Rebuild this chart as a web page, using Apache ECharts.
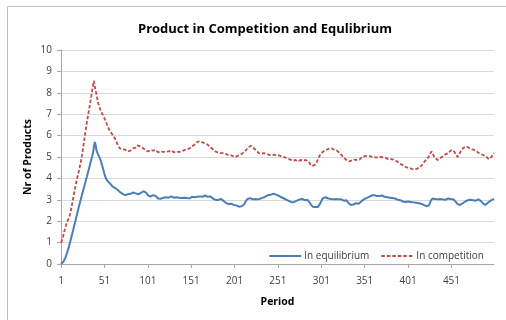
<!DOCTYPE html>
<html>
<head>
<meta charset="utf-8">
<script src="https://cdn.jsdelivr.net/npm/echarts@6/dist/echarts.min.js"></script>
<style>
  html, body { margin: 0; padding: 0; background: #ffffff; }
  #chart { width: 506px; height: 320px; }
</style>
</head>
<body>
<div id="chart"></div>
<script>
// Average number of products per period, 500 simulated periods
const periodCount = 500;
const periods = Array.from({ length: periodCount }, (_, i) => String(i + 1));

const yTicks = [0, 1, 2, 3, 4, 5, 6, 7, 8, 9, 10];

const equilibrium = [
  0.00, 0.02, 0.06, 0.12, 0.20, 0.29, 0.40, 0.52, 0.66, 0.80,
  0.95, 1.10, 1.26, 1.42, 1.58, 1.75, 1.92, 2.08, 2.25, 2.42,
  2.58, 2.74, 2.90, 3.05, 3.20, 3.36, 3.50, 3.66, 3.80, 3.96,
  4.10, 4.26, 4.42, 4.58, 4.74, 4.90, 5.05, 5.22, 5.48, 5.70,
  5.55, 5.30, 5.24, 5.10, 5.02, 4.92, 4.80, 4.66, 4.52, 4.38,
  4.22, 4.08, 3.98, 3.92, 3.86, 3.82, 3.78, 3.74, 3.70, 3.64,
  3.62, 3.60, 3.56, 3.52, 3.50, 3.48, 3.46, 3.40, 3.36, 3.32,
  3.30, 3.28, 3.26, 3.24, 3.22, 3.24, 3.22, 3.26, 3.28, 3.30,
  3.28, 3.30, 3.32, 3.34, 3.35, 3.32, 3.30, 3.28, 3.26, 3.26,
  3.28, 3.30, 3.32, 3.34, 3.38, 3.40, 3.42, 3.40, 3.34, 3.28,
  3.22, 3.18, 3.16, 3.15, 3.18, 3.20, 3.22, 3.22, 3.20, 3.18,
  3.14, 3.10, 3.06, 3.04, 3.03, 3.05, 3.03, 3.06, 3.10, 3.12,
  3.10, 3.12, 3.14, 3.12, 3.10, 3.12, 3.14, 3.16, 3.14, 3.12,
  3.10, 3.12, 3.14, 3.12, 3.10, 3.08, 3.10, 3.12, 3.10, 3.08,
  3.06, 3.08, 3.10, 3.08, 3.06, 3.08, 3.06, 3.05, 3.07, 3.10,
  3.12, 3.14, 3.12, 3.10, 3.12, 3.14, 3.16, 3.14, 3.12, 3.14,
  3.16, 3.18, 3.16, 3.14, 3.16, 3.18, 3.20, 3.18, 3.16, 3.14,
  3.16, 3.18, 3.16, 3.12, 3.08, 3.06, 3.04, 3.02, 3.00, 2.98,
  2.96, 2.98, 3.00, 3.02, 3.04, 3.02, 3.00, 2.96, 2.92, 2.88,
  2.86, 2.84, 2.82, 2.80, 2.78, 2.80, 2.82, 2.80, 2.78, 2.76,
  2.74, 2.76, 2.74, 2.72, 2.70, 2.68, 2.66, 2.68, 2.70, 2.68,
  2.72, 2.78, 2.86, 2.94, 3.00, 3.04, 3.08, 3.10, 3.08, 3.06,
  3.04, 3.02, 3.00, 3.02, 3.04, 3.06, 3.04, 3.02, 3.00, 3.02,
  3.06, 3.10, 3.12, 3.10, 3.12, 3.14, 3.16, 3.18, 3.20, 3.22,
  3.24, 3.26, 3.24, 3.22, 3.26, 3.28, 3.30, 3.28, 3.24, 3.22,
  3.20, 3.18, 3.16, 3.14, 3.12, 3.10, 3.08, 3.06, 3.04, 3.02,
  3.00, 2.98, 2.96, 2.94, 2.92, 2.90, 2.88, 2.86, 2.88, 2.90,
  2.92, 2.94, 2.96, 2.98, 3.00, 3.02, 3.00, 3.02, 3.04, 3.02,
  3.00, 2.98, 3.00, 3.02, 3.00, 2.96, 2.90, 2.84, 2.78, 2.72,
  2.68, 2.66, 2.64, 2.66, 2.68, 2.64, 2.66, 2.70, 2.78, 2.86,
  2.94, 3.02, 3.08, 3.12, 3.15, 3.12, 3.10, 3.08, 3.06, 3.04,
  3.02, 3.04, 3.06, 3.04, 3.02, 3.00, 3.02, 3.04, 3.06, 3.04,
  3.02, 3.03, 3.04, 3.02, 3.00, 2.98, 2.96, 2.94, 2.96, 2.98,
  2.92, 2.86, 2.80, 2.78, 2.76, 2.78, 2.76, 2.78, 2.80, 2.82,
  2.84, 2.86, 2.84, 2.82, 2.84, 2.88, 2.92, 2.96, 3.00, 3.02,
  3.04, 3.06, 3.08, 3.10, 3.12, 3.14, 3.16, 3.18, 3.20, 3.22,
  3.20, 3.22, 3.18, 3.16, 3.18, 3.20, 3.22, 3.18, 3.16, 3.18,
  3.20, 3.18, 3.16, 3.14, 3.12, 3.10, 3.12, 3.14, 3.12, 3.10,
  3.08, 3.06, 3.08, 3.10, 3.08, 3.06, 3.04, 3.02, 3.00, 2.98,
  2.96, 2.98, 2.96, 2.94, 2.92, 2.94, 2.92, 2.90, 2.92, 2.94,
  2.92, 2.90, 2.92, 2.90, 2.88, 2.86, 2.88, 2.86, 2.84, 2.86,
  2.84, 2.86, 2.84, 2.82, 2.84, 2.82, 2.80, 2.78, 2.76, 2.74,
  2.72, 2.70, 2.72, 2.70, 2.74, 2.84, 2.94, 3.02, 3.06, 3.08,
  3.06, 3.04, 3.06, 3.04, 3.02, 3.04, 3.06, 3.04, 3.02, 3.00,
  3.02, 3.04, 3.02, 3.00, 3.02, 3.04, 3.06, 3.04, 3.02, 3.04,
  3.02, 3.04, 3.03, 3.00, 2.96, 2.90, 2.84, 2.80, 2.78, 2.76,
  2.76, 2.78, 2.80, 2.84, 2.88, 2.90, 2.92, 2.94, 2.96, 2.98,
  2.96, 2.98, 3.00, 2.98, 2.96, 2.98, 3.00, 2.98, 2.96, 2.98,
  3.00, 3.02, 3.00, 2.98, 2.94, 2.88, 2.84, 2.80, 2.78, 2.76,
  2.78, 2.82, 2.86, 2.90, 2.94, 2.96, 2.98, 3.00, 3.02, 3.04
];

const competition = [
  1.00, 1.08, 1.20, 1.38, 1.55, 1.70, 1.86, 1.98, 2.06, 2.14,
  2.22, 2.40, 2.62, 2.84, 3.06, 3.28, 3.50, 3.70, 3.90, 4.08,
  4.24, 4.42, 4.60, 4.80, 5.04, 5.30, 5.58, 5.86, 6.14, 6.40,
  6.66, 6.90, 7.14, 7.38, 7.60, 7.86, 8.12, 8.38, 8.56, 8.30,
  8.10, 7.90, 7.70, 7.50, 7.38, 7.26, 7.14, 7.05, 6.98, 6.90,
  6.80, 6.74, 6.64, 6.52, 6.42, 6.32, 6.24, 6.18, 6.12, 6.06,
  6.00, 5.94, 5.88, 5.80, 5.70, 5.60, 5.50, 5.44, 5.40, 5.36,
  5.34, 5.36, 5.32, 5.30, 5.34, 5.28, 5.30, 5.26, 5.28, 5.32,
  5.30, 5.36, 5.34, 5.40, 5.42, 5.38, 5.44, 5.50, 5.54, 5.58,
  5.54, 5.50, 5.52, 5.46, 5.42, 5.44, 5.38, 5.34, 5.30, 5.28,
  5.26, 5.30, 5.28, 5.32, 5.30, 5.34, 5.30, 5.32, 5.36, 5.33,
  5.30, 5.26, 5.22, 5.24, 5.28, 5.26, 5.22, 5.20, 5.24, 5.26,
  5.28, 5.24, 5.26, 5.30, 5.26, 5.24, 5.28, 5.30, 5.26, 5.24,
  5.22, 5.26, 5.28, 5.24, 5.22, 5.20, 5.24, 5.26, 5.22, 5.26,
  5.28, 5.30, 5.32, 5.30, 5.34, 5.36, 5.34, 5.38, 5.40, 5.42,
  5.46, 5.50, 5.48, 5.54, 5.58, 5.62, 5.66, 5.70, 5.74, 5.77,
  5.74, 5.70, 5.72, 5.68, 5.70, 5.66, 5.64, 5.66, 5.60, 5.58,
  5.54, 5.50, 5.46, 5.42, 5.40, 5.36, 5.32, 5.30, 5.26, 5.24,
  5.22, 5.20, 5.18, 5.16, 5.18, 5.14, 5.16, 5.18, 5.14, 5.12,
  5.14, 5.10, 5.12, 5.08, 5.10, 5.06, 5.08, 5.04, 5.06, 5.02,
  5.04, 5.00, 5.02, 5.00, 5.04, 5.08, 5.06, 5.10, 5.14, 5.12,
  5.18, 5.22, 5.26, 5.30, 5.36, 5.40, 5.46, 5.50, 5.54, 5.52,
  5.50, 5.46, 5.42, 5.38, 5.35, 5.30, 5.26, 5.22, 5.18, 5.16,
  5.14, 5.16, 5.12, 5.14, 5.18, 5.16, 5.18, 5.14, 5.12, 5.14,
  5.10, 5.12, 5.14, 5.10, 5.12, 5.08, 5.10, 5.14, 5.12, 5.10,
  5.08, 5.10, 5.06, 5.08, 5.04, 5.02, 5.04, 5.00, 4.98, 4.96,
  4.98, 4.94, 4.96, 4.92, 4.88, 4.84, 4.82, 4.84, 4.86, 4.84,
  4.86, 4.82, 4.84, 4.80, 4.84, 4.82, 4.86, 4.88, 4.86, 4.84,
  4.88, 4.90, 4.86, 4.84, 4.86, 4.80, 4.74, 4.68, 4.62, 4.58,
  4.55, 4.58, 4.62, 4.68, 4.72, 4.80, 4.88, 4.96, 5.06, 5.14,
  5.18, 5.22, 5.26, 5.28, 5.30, 5.32, 5.34, 5.36, 5.38, 5.40,
  5.41, 5.38, 5.40, 5.36, 5.38, 5.34, 5.36, 5.32, 5.30, 5.28,
  5.22, 5.18, 5.14, 5.10, 5.06, 5.00, 4.96, 4.92, 4.88, 4.86,
  4.84, 4.80, 4.79, 4.82, 4.80, 4.84, 4.88, 4.86, 4.88, 4.90,
  4.88, 4.86, 4.88, 4.90, 4.88, 4.92, 4.96, 5.00, 5.04, 5.06,
  5.04, 5.08, 5.06, 5.04, 5.06, 5.08, 5.04, 5.02, 5.04, 5.00,
  4.98, 5.00, 4.98, 5.02, 5.00, 4.98, 4.96, 4.98, 5.00, 4.96,
  4.95, 4.98, 4.96, 4.94, 4.96, 4.92, 4.94, 4.90, 4.92, 4.88,
  4.90, 4.88, 4.86, 4.88, 4.84, 4.86, 4.82, 4.80, 4.78, 4.74,
  4.72, 4.68, 4.66, 4.62, 4.60, 4.58, 4.56, 4.55, 4.52, 4.50,
  4.48, 4.50, 4.46, 4.48, 4.45, 4.46, 4.44, 4.42, 4.44, 4.43,
  4.44, 4.46, 4.48, 4.52, 4.55, 4.58, 4.62, 4.68, 4.74, 4.80,
  4.84, 4.87, 4.90, 4.96, 5.04, 5.14, 5.22, 5.26, 5.20, 5.10,
  5.02, 4.96, 4.90, 4.88, 4.86, 4.87, 4.90, 4.94, 4.98, 5.00,
  5.04, 5.08, 5.10, 5.12, 5.10, 5.14, 5.18, 5.22, 5.26, 5.30,
  5.33, 5.30, 5.32, 5.28, 5.20, 5.10, 5.04, 5.00, 5.06, 5.14,
  5.22, 5.30, 5.36, 5.40, 5.44, 5.46, 5.48, 5.46, 5.44, 5.46,
  5.42, 5.40, 5.38, 5.36, 5.38, 5.34, 5.36, 5.33, 5.30, 5.26,
  5.22, 5.20, 5.18, 5.16, 5.14, 5.12, 5.10, 5.08, 5.06, 5.04,
  5.02, 4.98, 4.94, 4.90, 4.87, 4.92, 5.00, 5.08, 5.14, 5.18
];

const chart = echarts.init(document.getElementById('chart'), null, { renderer: 'canvas' });

const labelFont = '"Open Sans", "Noto Sans", sans-serif';
const gridColor = '#d9d9d9';
const axisColor = '#a6a6a6';
const textColor = '#404040';

chart.setOption({
  animation: false,
  backgroundColor: '#ffffff',
  title: {
    text: 'Product in Competition and Equlibrium',
    left: 260,
    textAlign: 'center',
    top: 18,
    textStyle: { fontFamily: labelFont, fontWeight: 'bold', fontSize: 13, color: '#000000' }
  },
  graphic: [{
    type: 'rect',
    silent: true,
    shape: { x: 7.5, y: 6.5, width: 520, height: 330 },
    style: { fill: null, stroke: '#bfbfbf', lineWidth: 1 }
  }],
  grid: { left: 61, right: 12, top: 50, bottom: 56, containLabel: false },
  legend: {
    right: 17,
    top: 246,
    itemWidth: 32,
    itemHeight: 6,
    itemGap: 11,
    textStyle: { fontFamily: labelFont, fontSize: 10, color: textColor, padding: [0, 0, 0, -2] },
    itemStyle: { opacity: 0 },
    data: ['In equilibrium', 'In competition']
  },
  xAxis: {
    type: 'category',
    data: periods,
    boundaryGap: false,
    name: 'Period',
    nameLocation: 'middle',
    nameGap: 33,
    nameMoveOverlap: false,
    nameTextStyle: { fontFamily: labelFont, fontWeight: 'bold', fontSize: 10.5, color: '#000000' },
    axisLine: { lineStyle: { color: axisColor } },
    axisTick: { interval: 49, length: 4, lineStyle: { color: axisColor } },
    axisLabel: { interval: 49, margin: 12, fontFamily: labelFont, fontSize: 10, color: textColor },
    splitLine: { show: false }
  },
  yAxis: {
    type: 'value',
    min: yTicks[0],
    max: yTicks[yTicks.length - 1],
    interval: 1,
    name: 'Nr of Products',
    nameLocation: 'middle',
    nameGap: 27,
    nameMoveOverlap: false,
    nameRotate: 90,
    nameTextStyle: { fontFamily: labelFont, fontWeight: 'bold', fontSize: 10.5, color: '#000000' },
    axisLine: { show: true, lineStyle: { color: axisColor } },
    axisTick: { show: true, length: 4, lineStyle: { color: axisColor } },
    axisLabel: { margin: 9, fontFamily: labelFont, fontSize: 10, color: textColor },
    splitLine: { lineStyle: { color: gridColor, width: 1 } }
  },
  series: [
    {
      name: 'In equilibrium',
      type: 'line',
      data: equilibrium,
      showSymbol: false,
      symbol: 'none',
      lineStyle: { color: '#4a7ebb', width: 2 },
      itemStyle: { color: '#4a7ebb' },
      z: 3
    },
    {
      name: 'In competition',
      type: 'line',
      data: competition,
      showSymbol: false,
      symbol: 'none',
      lineStyle: { color: '#be4b48', width: 1.8, type: [3.5, 2] },
      itemStyle: { color: '#be4b48' },
      z: 2
    }
  ]
});
</script>
</body>
</html>
